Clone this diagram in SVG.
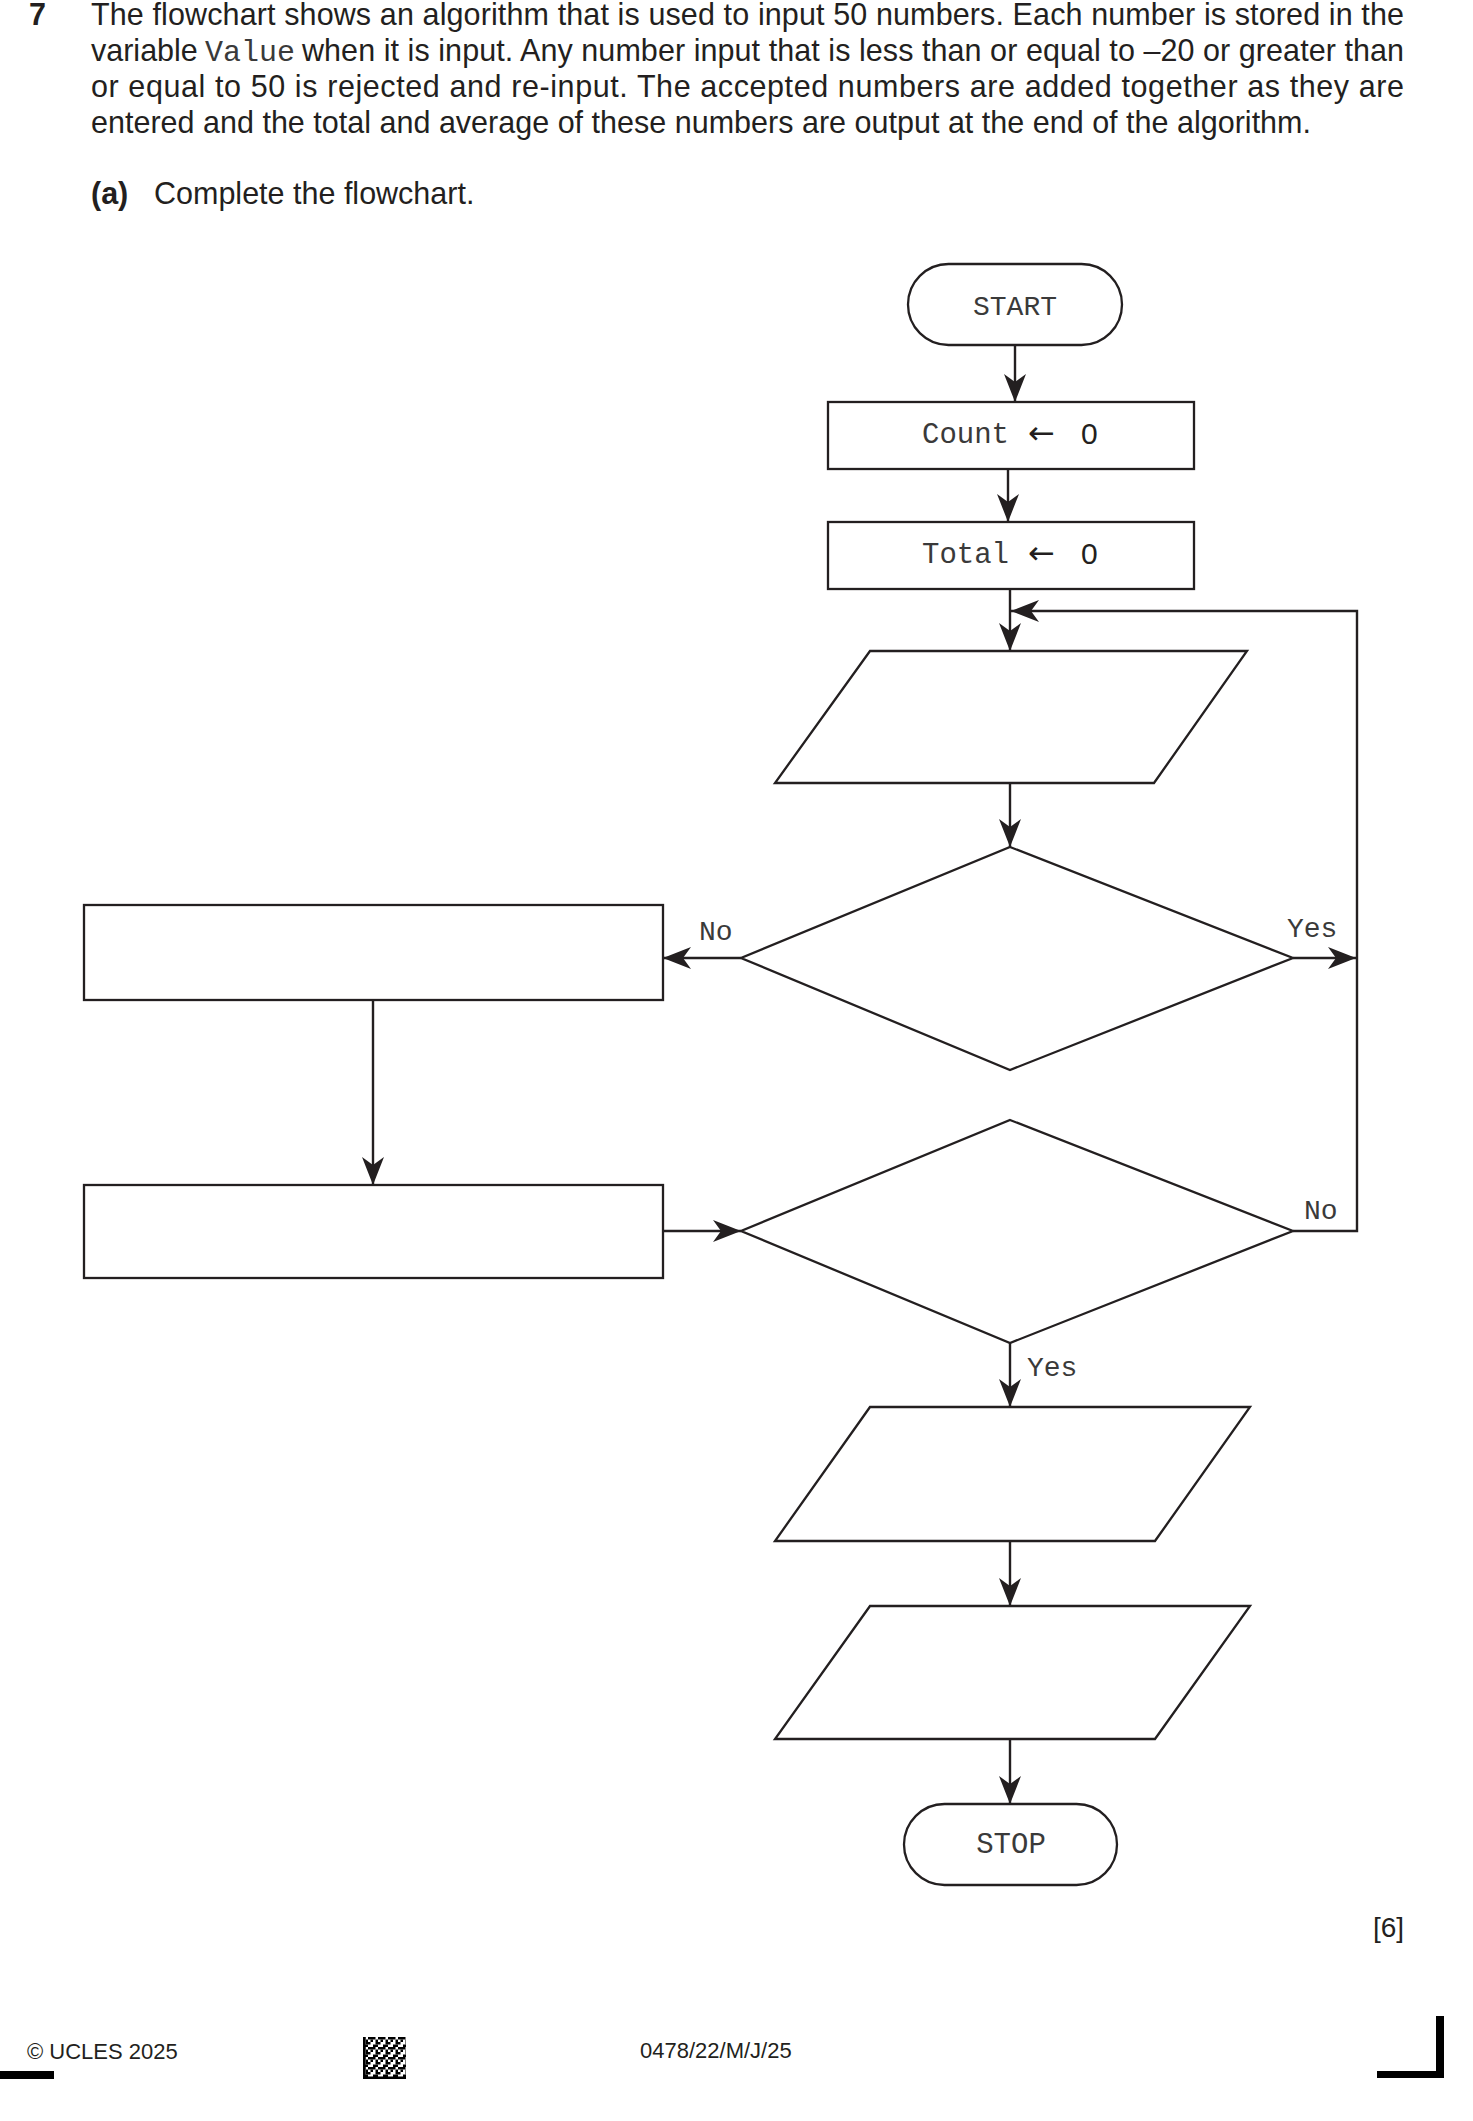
<svg xmlns="http://www.w3.org/2000/svg" width="1473" height="2121" viewBox="0 0 1473 2121">
<style>
.shape{fill:#fff;stroke:#231f20;stroke-width:2.3}
.conn{fill:none;stroke:#231f20;stroke-width:2.4}
.mono{font-family:"Liberation Mono","Courier New",monospace;fill:#3a3a3a}
.sans{font-family:"Liberation Sans",Arial,sans-serif;fill:#231f20}
.body{font-size:30.5px}
.lbl{font-size:28px}
</style>
<defs>
<marker id="ah" viewBox="0 0 28 22" refX="28" refY="11" markerWidth="28" markerHeight="22" markerUnits="userSpaceOnUse" orient="auto">
<path d="M0,0 L28,11 L0,22 L8,11 Z" fill="#231f20"/>
</marker>
<pattern id="dm" width="10" height="10" patternUnits="userSpaceOnUse" x="363" y="2037">
<rect x="0" y="0" width="2.5" height="2.5" fill="#000"/>
<rect x="5" y="0" width="5" height="2.5" fill="#000"/>
<rect x="2.5" y="2.5" width="2.5" height="5" fill="#000"/>
<rect x="7.5" y="2.5" width="2.5" height="2.5" fill="#000"/>
<rect x="0" y="7.5" width="5" height="2.5" fill="#000"/>
<rect x="5" y="5" width="2.5" height="2.5" fill="#000"/>
</pattern>
</defs>
<rect width="1473" height="2121" fill="#fff"/>

<g id="question">
<text class="sans body" x="29" y="25" font-weight="bold">7</text>
<text class="sans body" x="91" y="25" textLength="1313" lengthAdjust="spacing">The flowchart shows an algorithm that is used to input 50 numbers. Each number is stored in the</text>
<text class="sans body" x="91" y="61">variable</text>
<text class="mono" x="205" y="61" font-size="30">Value</text>
<text class="sans body" x="302" y="61" textLength="1102" lengthAdjust="spacing">when it is input. Any number input that is less than or equal to –20 or greater than</text>
<text class="sans body" x="91" y="97" textLength="1313" lengthAdjust="spacing">or equal to 50 is rejected and re-input. The accepted numbers are added together as they are</text>
<text class="sans body" x="91" y="133" textLength="1220" lengthAdjust="spacing">entered and the total and average of these numbers are output at the end of the algorithm.</text>
<text class="sans body" x="91" y="204" font-weight="bold">(a)</text>
<text class="sans body" x="154" y="204">Complete the flowchart.</text>
</g>

<g id="connectors">
<line class="conn" x1="1015" y1="345" x2="1015" y2="402" marker-end="url(#ah)"/>
<line class="conn" x1="1008" y1="469" x2="1008" y2="522" marker-end="url(#ah)"/>
<line class="conn" x1="1010" y1="589" x2="1010" y2="651" marker-end="url(#ah)"/>
<line class="conn" x1="1010" y1="783" x2="1010" y2="847" marker-end="url(#ah)"/>
<line class="conn" x1="741" y1="958" x2="663" y2="958" marker-end="url(#ah)"/>
<line class="conn" x1="1293" y1="958" x2="1356" y2="958" marker-end="url(#ah)"/>
<line class="conn" x1="373" y1="1000" x2="373" y2="1185" marker-end="url(#ah)"/>
<line class="conn" x1="663" y1="1231" x2="741" y2="1231" marker-end="url(#ah)"/>
<path class="conn" d="M1293,1231 H1357 V611 H1011" marker-end="url(#ah)"/>
<line class="conn" x1="1010" y1="1343" x2="1010" y2="1407" marker-end="url(#ah)"/>
<line class="conn" x1="1010" y1="1541" x2="1010" y2="1606" marker-end="url(#ah)"/>
<line class="conn" x1="1010" y1="1739" x2="1010" y2="1804" marker-end="url(#ah)"/>
<text class="mono lbl" x="699" y="940">No</text>
<text class="mono lbl" x="1287" y="937">Yes</text>
<text class="mono lbl" x="1304" y="1219">No</text>
<text class="mono lbl" x="1027" y="1376">Yes</text>
</g>

<g id="start">
<rect class="shape" x="908" y="264" width="214" height="81" rx="40.5"/>
<text class="mono lbl" x="1015" y="315" text-anchor="middle" font-size="29">START</text>
</g>
<g id="count">
<rect class="shape" x="828" y="402" width="366" height="67"/>
<text class="mono" x="922" y="443" font-size="29">Count</text>
<text x="1028" y="444" font-family="DejaVu Sans, sans-serif" font-size="32" fill="#231f20">←</text>
<text class="sans" x="1081" y="444" font-size="30">0</text>
</g>
<g id="total">
<rect class="shape" x="828" y="522" width="366" height="67"/>
<text class="mono" x="922" y="563" font-size="29">Total</text>
<text x="1028" y="564" font-family="DejaVu Sans, sans-serif" font-size="32" fill="#231f20">←</text>
<text class="sans" x="1081" y="564" font-size="30">0</text>
</g>
<g id="input">
<polygon class="shape" points="870,651 1247,651 1154,783 775,783"/>
</g>
<g id="decision1">
<polygon class="shape" points="1010,847 1293,958 1010,1070 741,958"/>
</g>
<g id="process1">
<rect class="shape" x="84" y="905" width="579" height="95"/>
</g>
<g id="process2">
<rect class="shape" x="84" y="1185" width="579" height="93"/>
</g>
<g id="decision2">
<polygon class="shape" points="1010,1120 1293,1231 1010,1343 741,1231"/>
</g>
<g id="output1">
<polygon class="shape" points="870,1407 1250,1407 1155,1541 775,1541"/>
</g>
<g id="output2">
<polygon class="shape" points="870,1606 1250,1606 1155,1739 775,1739"/>
</g>
<g id="stop">
<rect class="shape" x="904" y="1804" width="213" height="81" rx="40.5"/>
<text class="mono" x="1011" y="1853" text-anchor="middle" font-size="29">STOP</text>
</g>

<g id="footer">
<text class="sans" x="1373" y="1937" font-size="28">[6]</text>
<text class="sans" x="27" y="2059" font-size="22">© UCLES 2025</text>
<text class="sans" x="640" y="2058" font-size="22">0478/22/M/J/25</text>
<rect x="0" y="2071" width="54" height="8" fill="#000"/>
<rect x="1436" y="2016" width="8" height="62" fill="#000"/>
<rect x="1377" y="2071" width="67" height="7" fill="#000"/>
<rect x="363" y="2037" width="43" height="42" fill="url(#dm)"/>
<rect x="363" y="2037" width="2.5" height="42" fill="#000"/>
<rect x="363" y="2076.5" width="43" height="2.5" fill="#000"/>
</g>
</svg>
